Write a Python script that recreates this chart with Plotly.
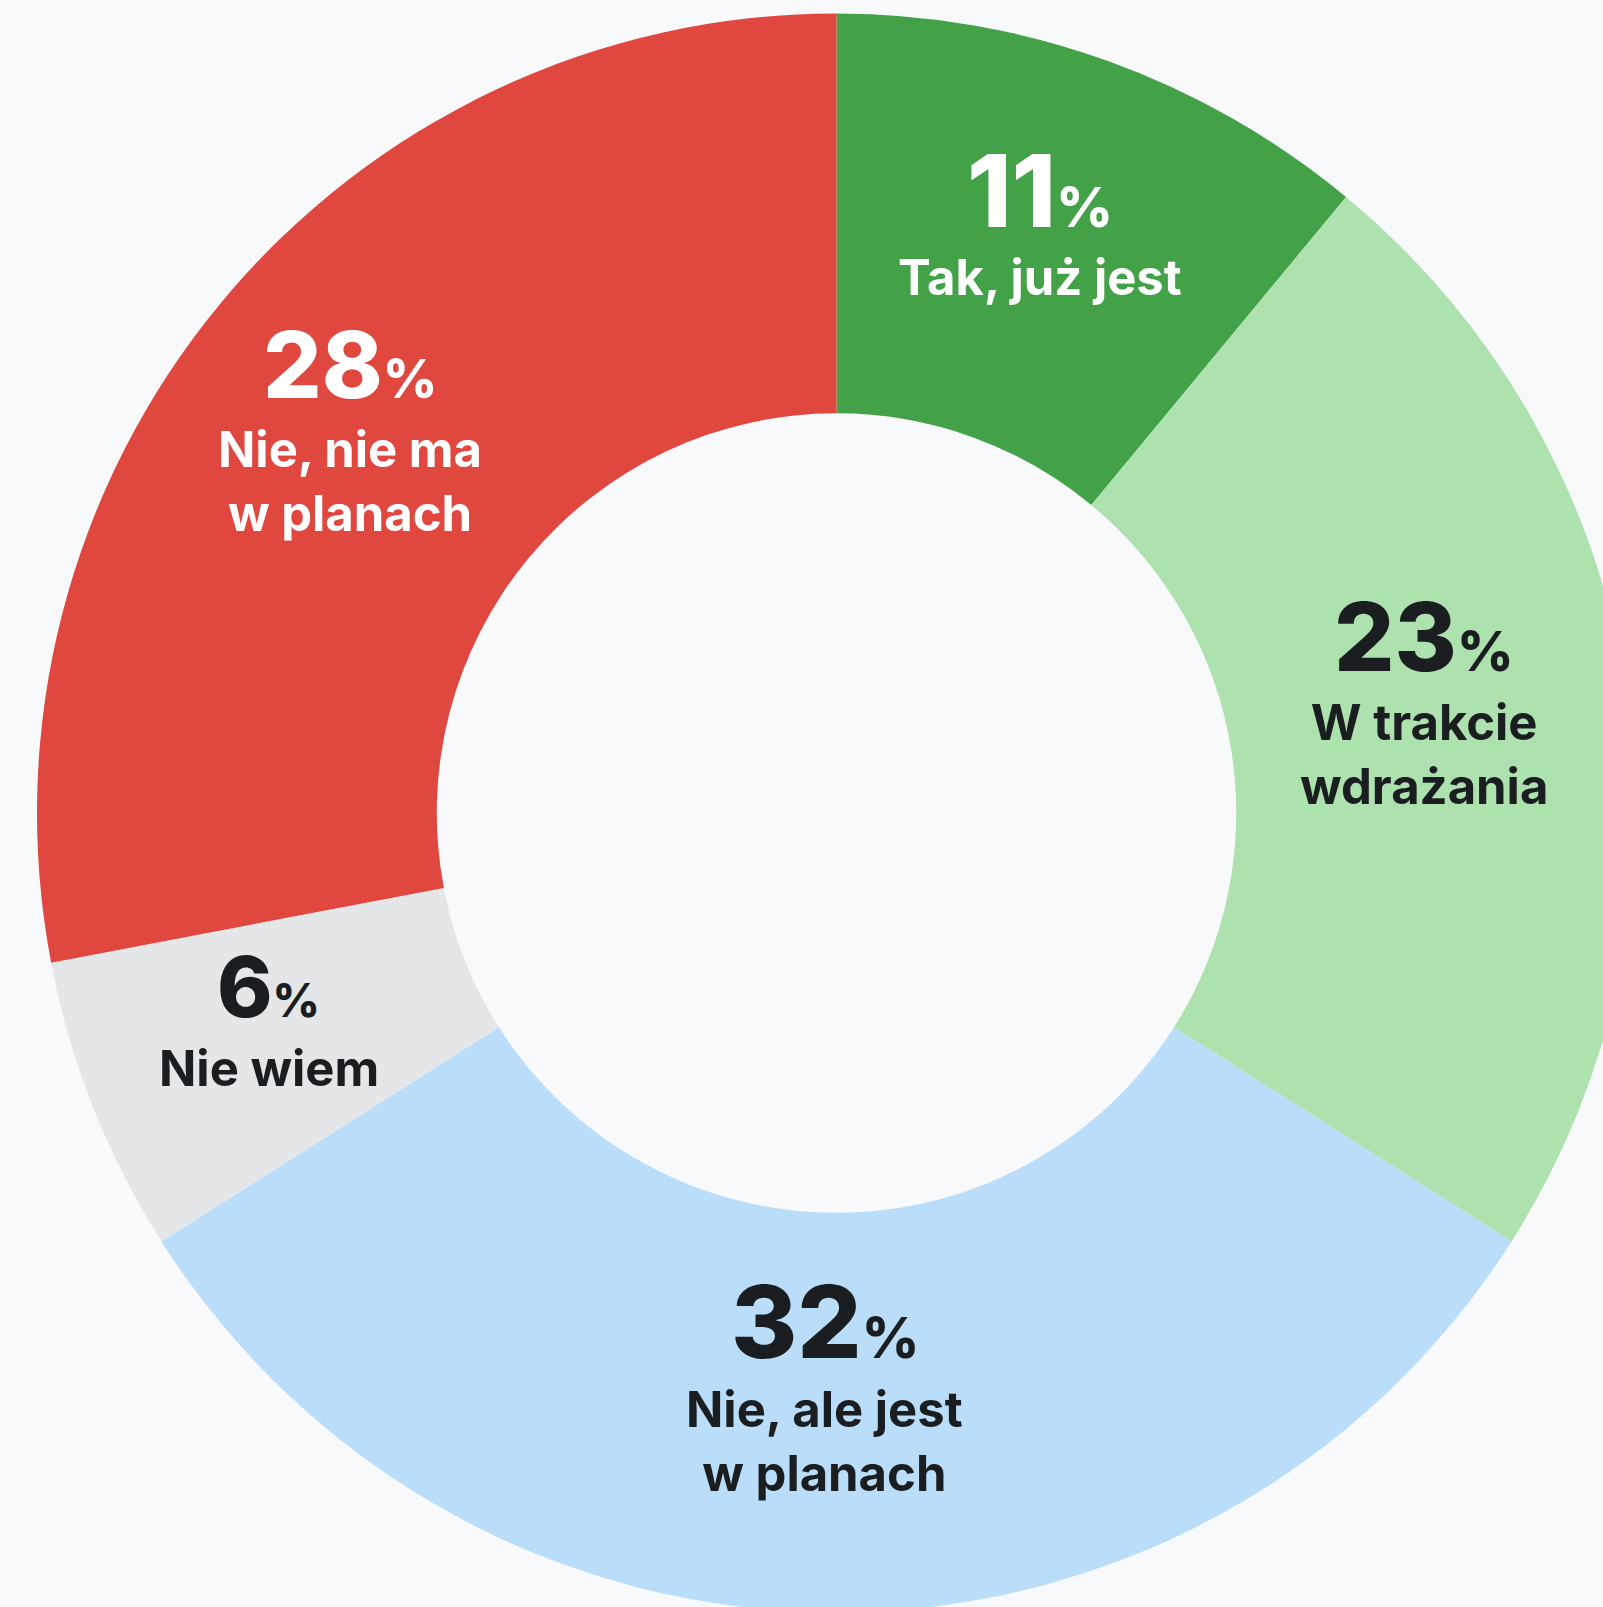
import math
import plotly.graph_objects as go

# Survey answers, clockwise from 12 o'clock
categories = ["Tak, już jest", "W trakcie<br>wdrażania", "Nie, ale jest<br>w planach",
              "Nie wiem", "Nie, nie ma<br>w planach"]
shares = [11, 23, 32, 6, 28]

# Styling per slice
slice_colors = ["#43A148", "#ADE1AE", "#BADDF9", "#E5E6E8", "#DF473F"]
text_colors = ["#FFFFFF", "#1B1E21", "#1B1E21", "#1B1E21", "#FFFFFF"]
number_sizes = [101, 95, 101, 84, 92]
percent_sizes = [55, 55, 56, 46, 53]
label_size = 49
# Nudges (px, screen x right / y down) of each text block from the ring's mid-line
nudge_x = [0, -5, -12, -10, -24]
nudge_y = [-25, -17, -25, -13, 0]

BG = "#F8F9FB"
FONT = "Inter"
HOLE = 0.5
GAP = 33

# Canvas: the ring is larger than the visible window and runs off the right/bottom edges
M_L, M_T = 37, 13
PLOT_W, PLOT_H = 1599, 1600
W, H = M_L + PLOT_W, M_T + PLOT_H
R = min(PLOT_W, PLOT_H) / 2

fig = go.Figure(go.Pie(
    values=shares,
    labels=[c.replace("<br>", " ") for c in categories],
    sort=False,
    direction="clockwise",
    rotation=0,
    hole=HOLE,
    textinfo="none",
    hoverinfo="skip",
    marker=dict(colors=slice_colors, line=dict(width=0)),
    showlegend=False,
    domain=dict(x=[0, 1], y=[0, 1]),
))

total = sum(shares)
cum = 0
annotations = []
for i, (cat, val) in enumerate(zip(categories, shares)):
    mid = (cum + val / 2) / total * 2 * math.pi
    cum += val
    rr = R * (1 + HOLE) / 2  # middle of the ring
    cx = rr * math.sin(mid) + nudge_x[i]     # px from centre, right positive
    cy = rr * math.cos(mid) - nudge_y[i]     # px from centre, up positive

    fn, fp, fl = number_sizes[i], percent_sizes[i], label_size
    n_lines = cat.count("<br>") + 1
    num_cap = 0.727 * fn
    lab_h = 0.727 * fl + (n_lines - 1) * 1.3 * fl
    block = num_cap + GAP + lab_h
    top = cy + block / 2

    x_paper = 0.5 + cx / PLOT_W
    num_mid = top - num_cap / 2
    lab_top = top - num_cap - GAP + 1 + 0.242 * fl

    annotations.append(dict(
        x=x_paper, y=0.5 + num_mid / PLOT_H, xref="paper", yref="paper",
        xanchor="center", yanchor="middle", showarrow=False,
        text=f"{val}<span style='font-size:{fp}px'>%</span>",
        font=dict(family=FONT, size=fn, color=text_colors[i], weight=800),
    ))
    annotations.append(dict(
        x=x_paper, y=0.5 + lab_top / PLOT_H, xref="paper", yref="paper",
        xanchor="center", yanchor="top", showarrow=False, align="center",
        text=cat,
        font=dict(family=FONT, size=fl, color=text_colors[i], weight=700),
    ))

fig.update_layout(
    width=W, height=H,
    margin=dict(l=M_L, r=0, t=M_T, b=0, pad=0),
    paper_bgcolor=BG, plot_bgcolor=BG,
    annotations=annotations,
)

fig.write_html(
    "out.html",
    post_script="document.body.style.margin='0';"
                "document.body.style.overflow='hidden';"
                "document.documentElement.style.overflow='hidden';",
)
